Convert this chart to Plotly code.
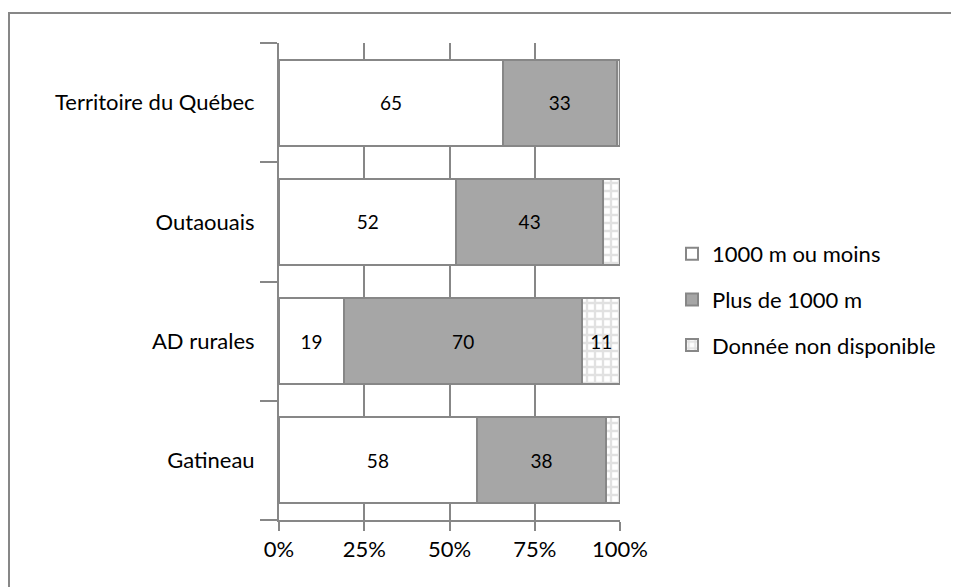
import plotly.graph_objects as go

categories = ["Territoire du Québec", "Outaouais", "AD rurales", "Gatineau"]
moins_1000 = [65, 52, 19, 58]
plus_1000 = [33, 43, 70, 38]
non_dispo = [1, 5, 11, 4]
label_non_dispo = ["", "", "11", ""]
tick_vals = [0, 25, 50, 75, 100]
tick_text = ["0%", "25%", "50%", "75%", "100%"]

FONT = "Lato, Open Sans, sans-serif"
LINE = "#878787"

# plot area in reference pixels (page body adds an 8 px offset)
W, H = 959, 587
OFF = 8
L, R, T, B = 279, 620, 43, 520
pw, ph = R - L, B - T

def bar_text(vals):
    return [str(v) for v in vals]

fig = go.Figure()
fig.add_trace(go.Bar(
    y=categories, x=moins_1000, orientation="h", name="1000 m ou moins",
    legendgroup="a",
    marker=dict(color="white", line=dict(color=LINE, width=2)),
    text=bar_text(moins_1000), textposition="inside", insidetextanchor="middle",
    textfont=dict(size=19, color="black", family=FONT),
))
fig.add_trace(go.Bar(
    y=categories, x=plus_1000, orientation="h", name="Plus de 1000 m",
    legendgroup="b",
    marker=dict(color="#a6a6a6", line=dict(color=LINE, width=2)),
    text=bar_text(plus_1000), textposition="inside", insidetextanchor="middle",
    textfont=dict(size=19, color="black", family=FONT),
))
fig.add_trace(go.Bar(
    y=categories, x=non_dispo, orientation="h", name="Donnée non disponible",
    legendgroup="c",
    marker=dict(color="white", line=dict(color=LINE, width=2),
                pattern=dict(shape="+", fgcolor="#c4c4c4", bgcolor="white", size=8, solidity=0.5)),
    text=label_non_dispo, textposition="inside", insidetextanchor="middle",
    textfont=dict(size=19, color="black", family=FONT),
))

shapes = [
    dict(type="rect", xref="paper", yref="paper",
         x0=(9 - L) / pw, x1=(W + 20 - L) / pw,
         y0=(B - (H + 20)) / ph, y1=(B - 13) / ph,
         line=dict(color=LINE, width=2), fillcolor="rgba(0,0,0,0)", layer="below"),
]

fig.update_layout(
    barmode="stack", barnorm="percent", bargap=0.28,
    width=W, height=H,
    margin=dict(l=L - OFF, r=W - (L - OFF) - pw, t=T - OFF, b=H - (T - OFF) - ph, autoexpand=False),
    paper_bgcolor="white", plot_bgcolor="white",
    font=dict(family=FONT, color="black"),
    shapes=shapes,
    showlegend=True,
    legend=dict(x=(672 - L) / pw, y=(B - 233) / ph, xanchor="left", yanchor="top",
                font=dict(size=22, family=FONT, color="black"),
                traceorder="grouped", tracegroupgap=14,
                itemwidth=30, bgcolor="rgba(0,0,0,0)"),
    xaxis=dict(range=[0, 100], tickvals=tick_vals, ticktext=tick_text,
               showgrid=True, gridcolor=LINE, gridwidth=2,
               showline=True, linecolor=LINE, linewidth=2,
               ticks="outside", ticklen=9, tickcolor=LINE, tickwidth=2,
               tickfont=dict(size=22, family=FONT, color="black"),
               zeroline=False, fixedrange=True),
    yaxis=dict(categoryorder="array", categoryarray=categories[::-1],
               showline=True, linecolor=LINE, linewidth=2, mirror=False,
               ticks="outside", ticklen=17, tickcolor=LINE, tickwidth=2,
               tickson="boundaries",
               tickfont=dict(size=22, family=FONT, color="black"),
               ticklabelstandoff=18,
               showgrid=False, zeroline=False, fixedrange=True),
)

fig.write_html("out.html")
